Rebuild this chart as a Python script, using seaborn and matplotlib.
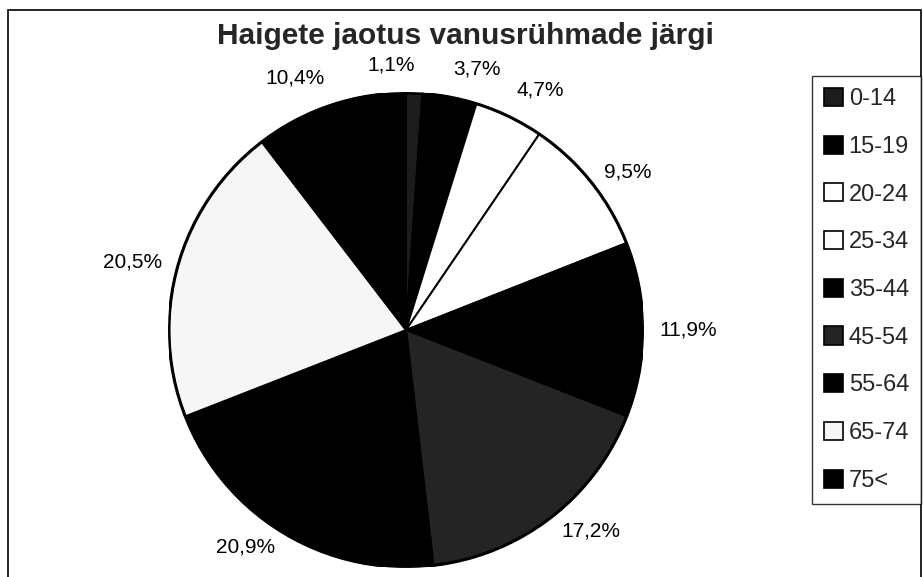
import numpy as np
import matplotlib
matplotlib.use("Agg")
import matplotlib.pyplot as plt
from matplotlib.patches import Rectangle
import seaborn as sns

# age groups and share of patients (%)
groups = ["0-14", "15-19", "20-24", "25-34", "35-44", "45-54", "55-64", "65-74", "75<"]
shares = [1.1, 3.7, 4.7, 9.5, 11.9, 17.2, 20.9, 20.5, 10.4]
fills = ["#1c1c1c", "#000000", "#ffffff", "#ffffff", "#000000",
         "#242424", "#000000", "#f6f6f6", "#000000"]
title = "Haigete jaotus vanusrühmade järgi"

sns.set_style("white")
plt.rcParams["font.family"] = ["Liberation Sans", "DejaVu Sans"]

W, H = 923, 577
fig = plt.figure(figsize=(W / 100, H / 100), dpi=100)
fig.patch.set_facecolor("white")

# outer chart frame
fig.patches.append(Rectangle((8 / W, -0.02), 913 / W, 1.02 - 10 / H,
                             transform=fig.transFigure, fill=False,
                             edgecolor="black", linewidth=1.2))

cx, cy, r = 406, 330, 237
ax = fig.add_axes([(cx - r) / W, (H - cy - r) / H, 2 * r / W, 2 * r / H])

pct_labels = [f"{v:.1f}%".replace(".", ",") for v in shares]
wedges, texts = ax.pie(shares, labels=pct_labels, colors=fills,
                       startangle=90, counterclock=False,
                       labeldistance=1.07,
                       wedgeprops=dict(edgecolor="black", linewidth=1.4),
                       textprops=dict(fontsize=15, color="black"))
ax.add_patch(plt.Circle((0, 0), 1.0, fill=False, edgecolor="black", linewidth=2.2))
for t in texts:
    x, y = t.get_position()
    if abs(x) < 0.1:
        # tiny top slice: Excel pushes its label to the left of the next one
        t.set_horizontalalignment("right")
    if y > 0.9:
        t.set_position((x, y + 0.05))
ax.set_xlim(-1, 1)
ax.set_ylim(-1, 1)
ax.set_aspect("equal")
ax.axis("off")

# title is centred over the whole chart area, not over the pie
fig.text(465 / W, 1 - 36 / H, title, ha="center", va="center",
         fontsize=21.5, fontweight="bold")

leg = fig.legend(wedges, groups, loc="upper right",
                 bbox_to_anchor=(921 / W, 1 - 76 / H), borderaxespad=0,
                 fontsize=17, frameon=True, fancybox=False,
                 edgecolor="black", handlelength=0.8, handleheight=0.8,
                 handletextpad=0.25, labelspacing=1.08, borderpad=0.5)
leg.get_frame().set_linewidth(1.0)
for h in leg.legend_handles:
    h.set_linewidth(1.2)
    h.set_edgecolor("black")

fig.savefig("out.png", dpi=100, facecolor="white")
